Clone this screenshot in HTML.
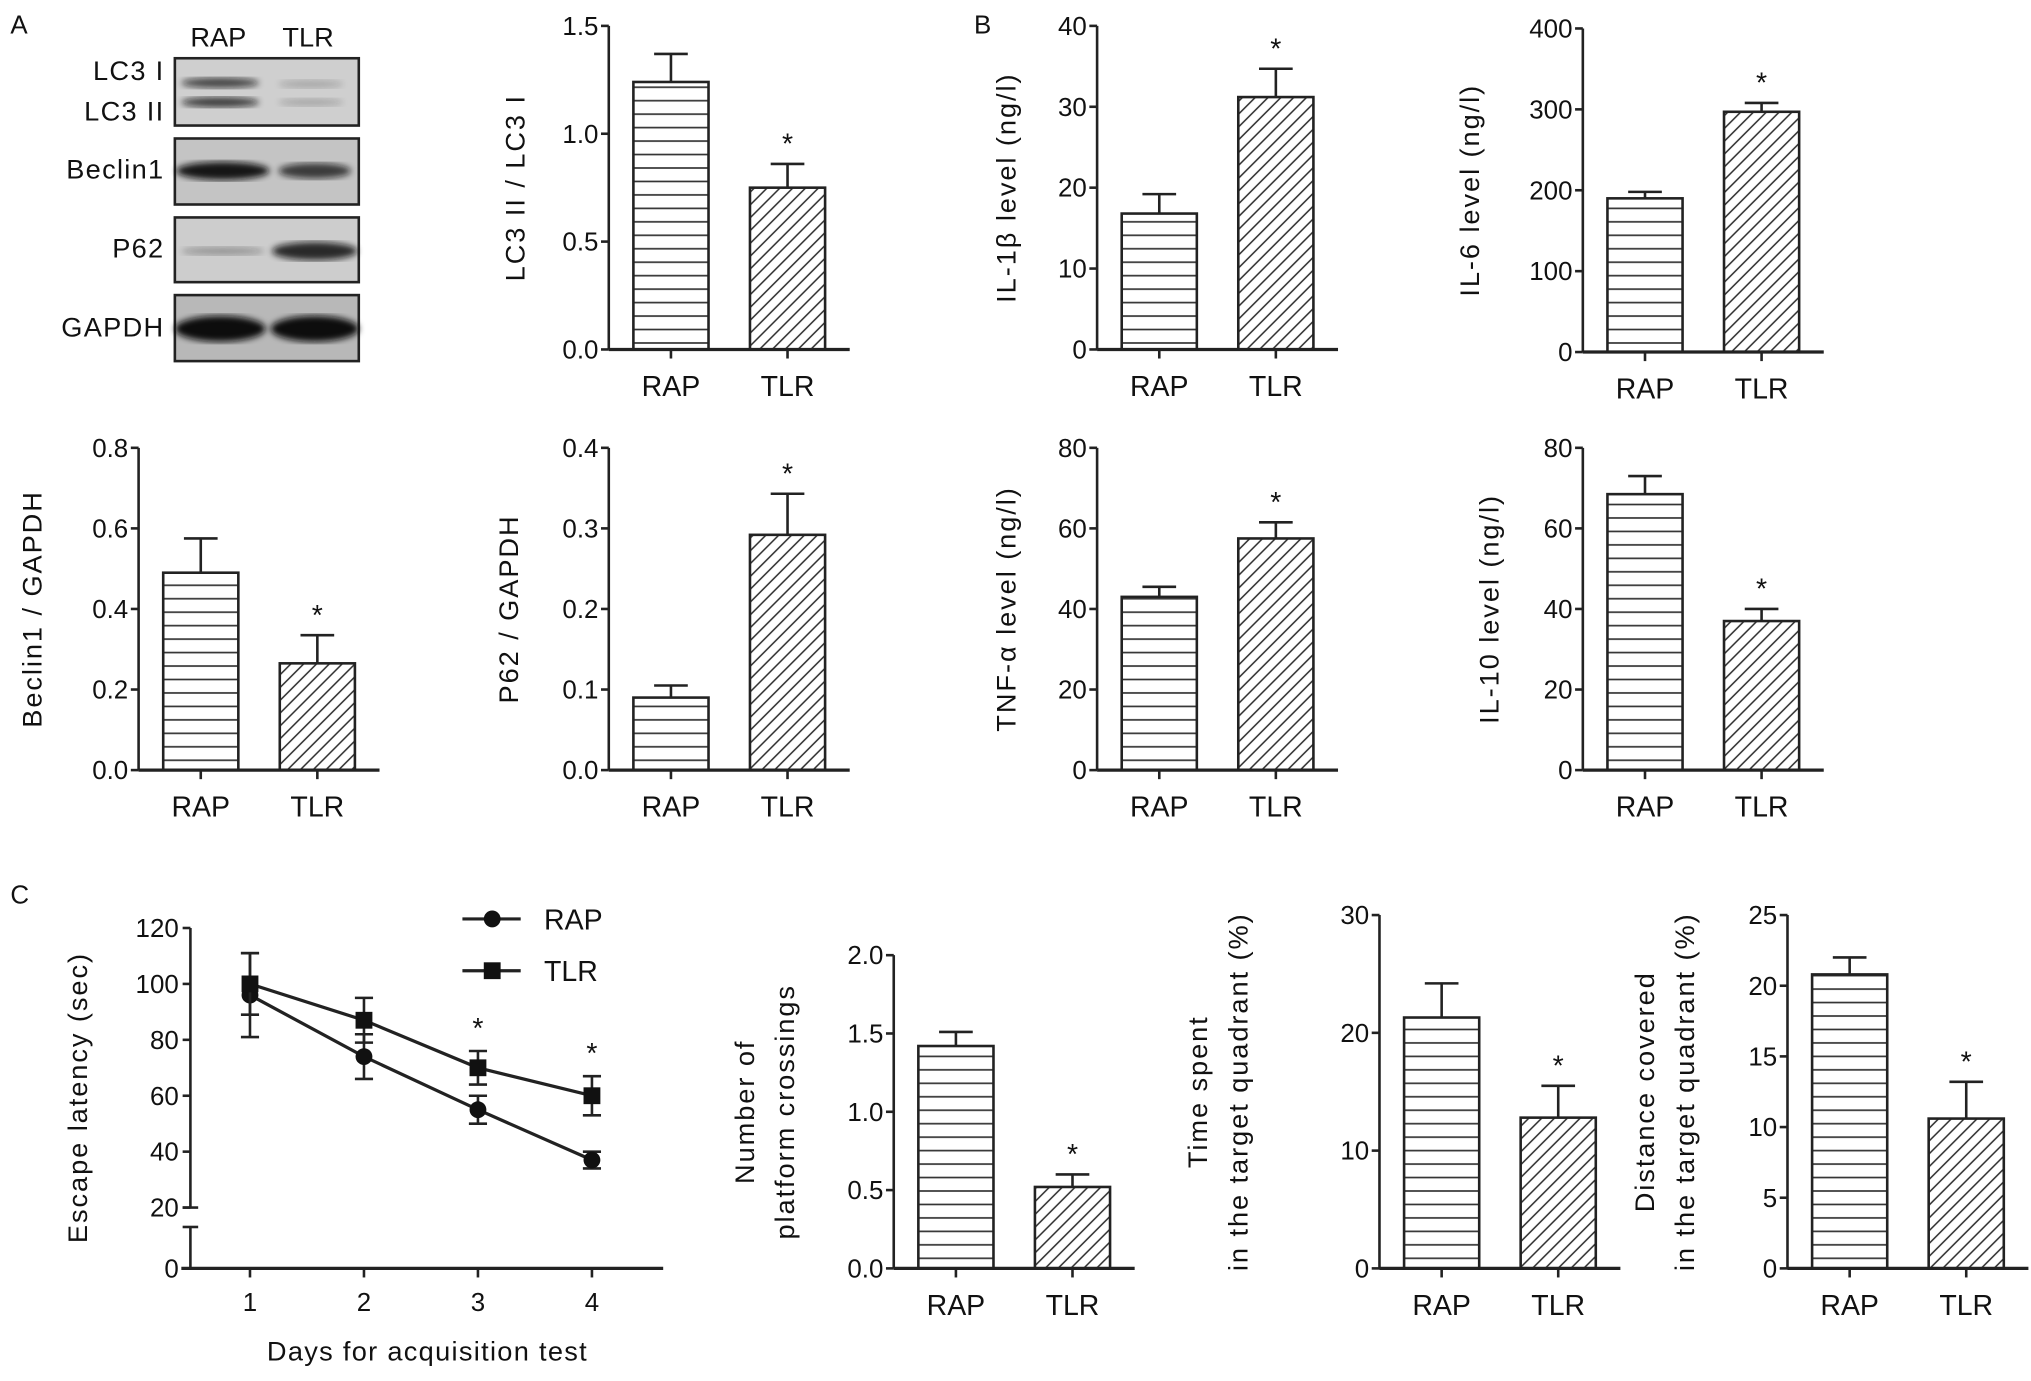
<!DOCTYPE html>
<html><head><meta charset="utf-8">
<style>
html,body{margin:0;padding:0;background:#fff;}
svg{display:block;}
text{font-family:"Liberation Sans",Arial,sans-serif;fill:#111;}
</style></head>
<body>
<svg id="fig" width="2031" height="1381" viewBox="0 0 1568 1067" preserveAspectRatio="none" xmlns="http://www.w3.org/2000/svg">
<defs>
<pattern id="hpat" patternUnits="userSpaceOnUse" width="10" height="10.4"><rect width="10" height="10.4" fill="#fff"/><line x1="0" y1="5" x2="10" y2="5" stroke="#333" stroke-width="1.3"/></pattern>
<pattern id="dpat" patternUnits="userSpaceOnUse" width="7" height="7" patternTransform="rotate(-45)"><rect width="7" height="7" fill="#fff"/><line x1="0" y1="3.5" x2="7" y2="3.5" stroke="#333" stroke-width="1.2"/></pattern>
<filter id="blur"><feGaussianBlur stdDeviation="2.5"/></filter>
</defs>
<g id="root"></g>
</svg>
<script>
// ---- Chart data ----
const groupLabels = ["RAP", "TLR"];
const lc3Values = [1.24, 0.75];
const lc3Errors = [0.13, 0.11];
const lc3Ticks = ["0.0", "0.5", "1.0", "1.5"];
const il1Values = [16.8, 31.2];
const il1Errors = [2.4, 3.5];
const il1Ticks = ["0", "10", "20", "30", "40"];
const il6Values = [190, 297];
const il6Errors = [8, 11];
const il6Ticks = ["0", "100", "200", "300", "400"];
const beclinValues = [0.49, 0.265];
const beclinErrors = [0.085, 0.07];
const beclinTicks = ["0.0", "0.2", "0.4", "0.6", "0.8"];
const p62Values = [0.09, 0.292];
const p62Errors = [0.015, 0.051];
const p62Ticks = ["0.0", "0.1", "0.2", "0.3", "0.4"];
const tnfValues = [43, 57.5];
const tnfErrors = [2.5, 4];
const tnfTicks = ["0", "20", "40", "60", "80"];
const il10Values = [68.5, 37];
const il10Errors = [4.5, 3];
const il10Ticks = ["0", "20", "40", "60", "80"];
const crossValues = [1.42, 0.52];
const crossErrors = [0.09, 0.08];
const crossTicks = ["0.0", "0.5", "1.0", "1.5", "2.0"];
const timeValues = [21.3, 12.8];
const timeErrors = [2.9, 2.7];
const timeTicks = ["0", "10", "20", "30"];
const distValues = [20.8, 10.6];
const distErrors = [1.2, 2.6];
const distTicks = ["0", "5", "10", "15", "20", "25"];
const days = ["1", "2", "3", "4"];
const rapLatency = [96, 74, 55, 37];
const rapLatencyErr = [15, 8, 5, 3];
const tlrLatency = [100, 87, 70, 60];
const tlrLatencyErr = [11, 8, 6, 7];
const latencyTicks = ["0", "20", "40", "60", "80", "100", "120"];
const latencyStars = [false, false, true, true];

const NS = "http://www.w3.org/2000/svg";
const root = document.getElementById("root");
function el(tag, attrs, parent, txt) {
  const e = document.createElementNS(NS, tag);
  for (const k in attrs) e.setAttribute(k, attrs[k]);
  if (txt !== undefined) e.textContent = txt;
  (parent || root).appendChild(e);
  return e;
}

function barChart(cfg) {
  const g = el("g", {});
  
  
  const tickVals = cfg.ticks.map(Number);
  const ymax = tickVals[tickVals.length - 1];
  const y = v => cfg.y0 - (v / ymax) * (cfg.y0 - cfg.yTop);
  const ax = cfg.ax;
  const slot = 90;
  const x = i => ax + 48 + i * slot;
  const yaxis = el("line", {x1: ax, y1: cfg.yTop, x2: ax, y2: cfg.y0, stroke: "#222", "stroke-width": 2}, g);
  
  
  cfg.ticks.forEach((t, i) => {
    const yy = y(tickVals[i]);
    el("line", {x1: ax - 6, y1: yy, x2: ax, y2: yy, stroke: "#222", "stroke-width": 2}, g);
    const tl = el("text", {x: ax - 8, y: yy + 7, "text-anchor": "end", "font-size": 20}, g, t);
    
    
  });
  cfg.values.forEach((v, i) => {
    const cx = x(i);
    const top = y(v);
    const bar = el("rect", {x: cx - 29, y: top, width: 58, height: cfg.y0 - top, fill: i === 0 ? "url(#hpat)" : "url(#dpat)", stroke: "#222", "stroke-width": 2}, g);
    
    
    const et = y(v + cfg.errors[i]);
    el("line", {x1: cx, y1: top, x2: cx, y2: et, stroke: "#222", "stroke-width": 2}, g);
    el("line", {x1: cx - 13, y1: et, x2: cx + 13, y2: et, stroke: "#222", "stroke-width": 2}, g);
    if (i === 1) {
      const st = el("text", {x: cx, y: et - 8, "text-anchor": "middle", "font-size": 22}, g, "*");
      
      
    }
    el("line", {x1: cx, y1: cfg.y0, x2: cx, y2: cfg.y0 + 7, stroke: "#222", "stroke-width": 2}, g);
    const xl = el("text", {x: cx, y: cfg.y0 + 36, "text-anchor": "middle", "font-size": 22}, g, groupLabels[i]);
    
    
  });
  const xaxis = el("line", {x1: ax, y1: cfg.y0, x2: ax + 186, y2: cfg.y0, stroke: "#222", "stroke-width": 2.5}, g);
  
  
  const cy = (cfg.yTop + cfg.y0) / 2;
  cfg.ylabel.forEach((line, li) => {
    const lx = cfg.lx + li * 31;
    const t = el("text", {x: lx, y: cy, transform: `rotate(-90 ${lx} ${cy})`, "text-anchor": "middle", "font-size": 21, "letter-spacing": "1.5"}, g, line);
    
    
  });
}

barChart({name: "lc3-ratio-chart", values: lc3Values, errors: lc3Errors, ticks: lc3Ticks, ax: 470, yTop: 20, y0: 270, lx: 405, ylabel: ["LC3 II / LC3 I"]});
barChart({name: "il1b-chart", values: il1Values, errors: il1Errors, ticks: il1Ticks, ax: 847, yTop: 20, y0: 270, lx: 784, ylabel: ["IL-1β level (ng/l)"]});
barChart({name: "il6-chart", values: il6Values, errors: il6Errors, ticks: il6Ticks, ax: 1222, yTop: 22, y0: 272, lx: 1142, ylabel: ["IL-6 level (ng/l)"]});
barChart({name: "beclin1-chart", values: beclinValues, errors: beclinErrors, ticks: beclinTicks, ax: 107, yTop: 346, y0: 595, lx: 32, ylabel: ["Beclin1 / GAPDH"]});
barChart({name: "p62-chart", values: p62Values, errors: p62Errors, ticks: p62Ticks, ax: 470, yTop: 346, y0: 595, lx: 400, ylabel: ["P62 / GAPDH"]});
barChart({name: "tnfa-chart", values: tnfValues, errors: tnfErrors, ticks: tnfTicks, ax: 847, yTop: 346, y0: 595, lx: 784, ylabel: ["TNF-α level (ng/l)"]});
barChart({name: "il10-chart", values: il10Values, errors: il10Errors, ticks: il10Ticks, ax: 1222, yTop: 346, y0: 595, lx: 1157, ylabel: ["IL-10 level (ng/l)"]});
barChart({name: "platform-crossings-chart", values: crossValues, errors: crossErrors, ticks: crossTicks, ax: 690, yTop: 738, y0: 980, lx: 582, ylabel: ["Number of", "platform crossings"]});
barChart({name: "time-spent-chart", values: timeValues, errors: timeErrors, ticks: timeTicks, ax: 1065, yTop: 707, y0: 980, lx: 932, ylabel: ["Time spent", "in the target quadrant (%)"]});
barChart({name: "distance-covered-chart", values: distValues, errors: distErrors, ticks: distTicks, ax: 1380, yTop: 707, y0: 980, lx: 1277, ylabel: ["Distance covered", "in the target quadrant (%)"]});

(function () {
  const g = el("g", {});
  
  
  const ax = 147, y0 = 980, y20 = 933, y120 = 717;
  const y = v => v === 0 ? y0 : y20 - (v - 20) / 100 * (y20 - y120);
  const x = i => 193 + i * 88;
  el("line", {x1: ax, y1: y120, x2: ax, y2: y20, stroke: "#222", "stroke-width": 2}, g);
  el("line", {x1: ax - 6, y1: y20, x2: ax + 6, y2: y20, stroke: "#222", "stroke-width": 2}, g);
  el("line", {x1: ax, y1: 948, x2: ax, y2: y0, stroke: "#222", "stroke-width": 2}, g);
  el("line", {x1: ax - 6, y1: 948, x2: ax + 6, y2: 948, stroke: "#222", "stroke-width": 2}, g);
  latencyTicks.forEach(t => {
    const yy = y(Number(t));
    el("line", {x1: ax - 6, y1: yy, x2: ax, y2: yy, stroke: "#222", "stroke-width": 2}, g);
    const tl = el("text", {x: ax - 9, y: yy + 7, "text-anchor": "end", "font-size": 20}, g, t);
    
    
  });
  const xa = el("line", {x1: 140, y1: y0, x2: 512, y2: y0, stroke: "#222", "stroke-width": 2.5}, g);
  
  
  days.forEach((d, i) => {
    el("line", {x1: x(i), y1: y0, x2: x(i), y2: y0 + 7, stroke: "#222", "stroke-width": 2}, g);
    const tl = el("text", {x: x(i), y: y0 + 33, "text-anchor": "middle", "font-size": 20}, g, d);
    
    
  });
  const xt = el("text", {x: 330, y: 1051, "text-anchor": "middle", "font-size": 21, "letter-spacing": "1"}, g, "Days for acquisition test");
  
  
  const yt = el("text", {x: 67, y: 848, transform: "rotate(-90 67 848)", "text-anchor": "middle", "font-size": 21, "letter-spacing": "1.5"}, g, "Escape latency (sec)");
  
  
  function series(vals, errs, shape, name) {
    const sg = el("g", {}, g);
    
    
    el("polyline", {points: vals.map((v, i) => x(i) + "," + y(v)).join(" "), fill: "none", stroke: "#222", "stroke-width": 2.5}, sg);
    vals.forEach((v, i) => {
      const cx = x(i), cy = y(v), t = y(v + errs[i]), b = y(v - errs[i]);
      el("line", {x1: cx, y1: t, x2: cx, y2: b, stroke: "#222", "stroke-width": 2}, sg);
      el("line", {x1: cx - 7, y1: t, x2: cx + 7, y2: t, stroke: "#222", "stroke-width": 2}, sg);
      el("line", {x1: cx - 7, y1: b, x2: cx + 7, y2: b, stroke: "#222", "stroke-width": 2}, sg);
      if (shape === "c") el("circle", {cx: cx, cy: cy, r: 6.5, fill: "#111"}, sg);
      else el("rect", {x: cx - 6.5, y: cy - 6.5, width: 13, height: 13, fill: "#111"}, sg);
    });
  }
  series(rapLatency, rapLatencyErr, "c", "series-rap");
  series(tlrLatency, tlrLatencyErr, "s", "series-tlr");
  latencyStars.forEach((s, i) => {
    if (!s) return;
    const top = y(tlrLatency[i] + tlrLatencyErr[i]);
    const st = el("text", {x: x(i), y: top - 10, "text-anchor": "middle", "font-size": 22}, g, "*");
    
    
  });
  const lg = el("g", {}, g);
  
  
  el("line", {x1: 357, y1: 710, x2: 402, y2: 710, stroke: "#222", "stroke-width": 2.5}, lg);
  el("circle", {cx: 380, cy: 710, r: 6.5, fill: "#111"}, lg);
  el("text", {x: 420, y: 718, "font-size": 22}, lg, "RAP");
  el("line", {x1: 357, y1: 750, x2: 402, y2: 750, stroke: "#222", "stroke-width": 2.5}, lg);
  el("rect", {x: 373.5, y: 743.5, width: 13, height: 13, fill: "#111"}, lg);
  el("text", {x: 420, y: 758, "font-size": 22}, lg, "TLR");
})();

(function () {
  const g = el("g", {});
  
  
  el("text", {x: 147, y: 36, "font-size": 21}, g, "RAP");
  el("text", {x: 218, y: 36, "font-size": 21}, g, "TLR");
  const rows = [
    {y: 45, h: 52, labels: [["LC3 I", 64], ["LC3 II", 95]], bands: [[170, 64, 30, 4, 0.7], [170, 79, 30, 4, 0.75], [240, 65, 25, 3, 0.2], [240, 79, 25, 3, 0.2]], bg: "#cfcfcf"},
    {y: 107, h: 51, labels: [["Beclin1", 140]], bands: [[172, 132, 36, 7, 0.95], [243, 132, 28, 6, 0.75]], bg: "#c4c4c4"},
    {y: 168, h: 50, labels: [["P62", 201]], bands: [[172, 194, 32, 3, 0.3], [243, 194, 33, 7, 0.85]], bg: "#cdcdcd"},
    {y: 228, h: 51, labels: [["GAPDH", 262]], bands: [[170, 254, 35, 10, 1], [243, 254, 34, 10, 1]], bg: "#b8b8b8"}
  ];
  rows.forEach((r, ri) => {
    const rg = el("g", {}, g);
    
    
    el("rect", {x: 135, y: r.y, width: 142, height: r.h, fill: r.bg, stroke: "#222", "stroke-width": 2}, rg);
    r.bands.forEach(b => el("ellipse", {cx: b[0], cy: b[1], rx: b[2], ry: b[3], fill: "#111", opacity: b[4], filter: "url(#blur)"}, rg));
    r.labels.forEach(l => el("text", {x: 127, y: l[1] - 2, "text-anchor": "end", "font-size": 21, "letter-spacing": "1"}, rg, l[0]));
  });
})();

[["A", 8, 26], ["B", 752, 26], ["C", 8, 698]].forEach(p => {
  const t = el("text", {x: p[1], y: p[2], "font-size": 20}, root, p[0]);
  
  
});
</script>
</body></html>
